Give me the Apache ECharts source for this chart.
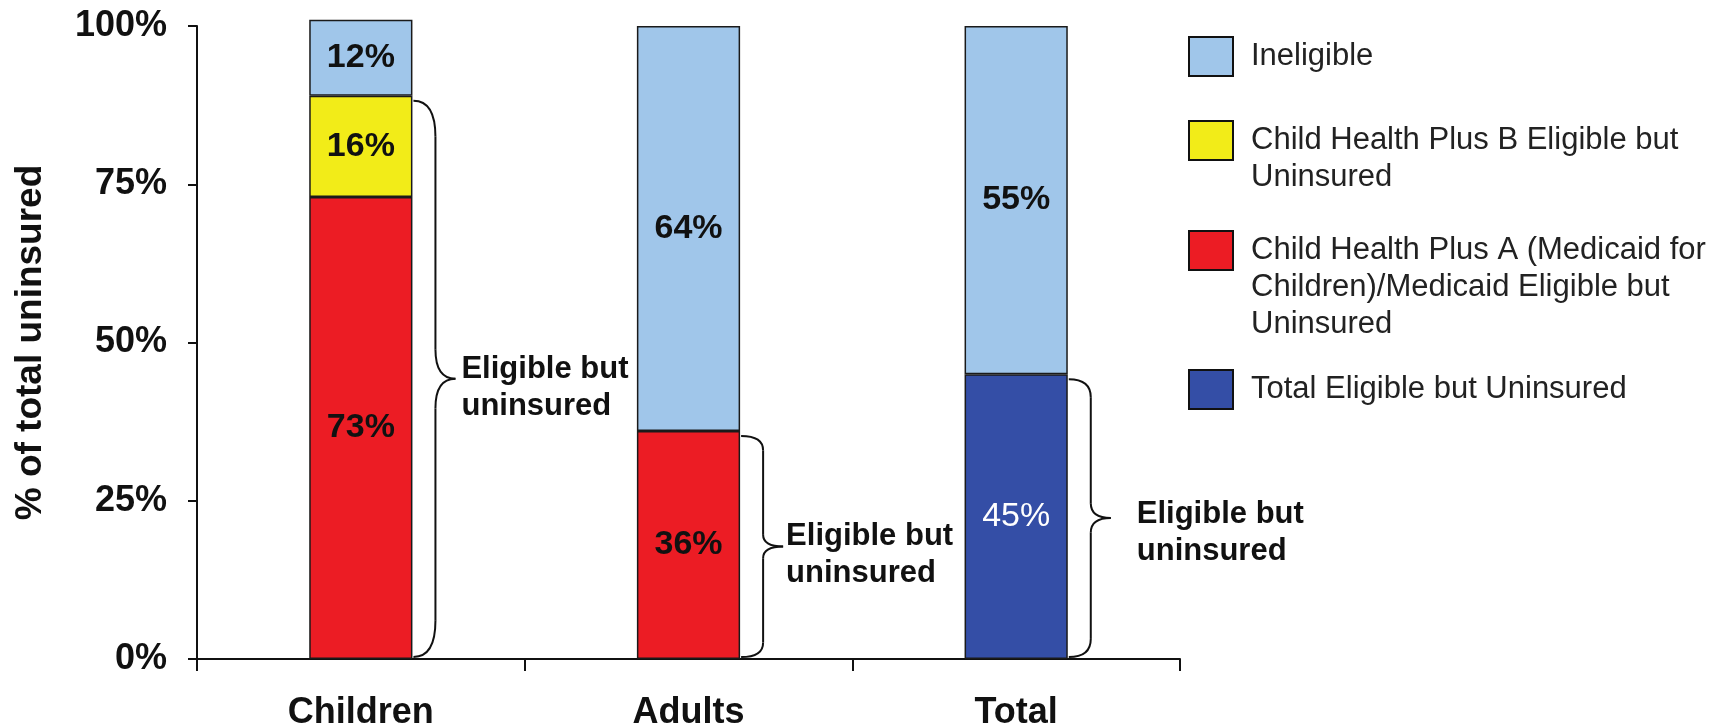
<!DOCTYPE html>
<html>
<head>
<meta charset="utf-8">
<title>% of total uninsured</title>
<script src="https://cdn.jsdelivr.net/npm/echarts@6/dist/echarts.min.js"></script>
<style>
  html, body { margin: 0; padding: 0; background: #ffffff; }
  #chart { width: 1721px; height: 728px; }
</style>
</head>
<body>
<div id="chart"></div>
<script>
// ---- data ----
const categories = ['Children', 'Adults', 'Total'];
const ineligible = [12, 64, 55];
const chpBEligible = [16, '-', '-'];
const chpAEligible = [73, 36, '-'];
const totalEligible = ['-', '-', 45];
const yTicks = [0, 25, 50, 75, 100];

const seriesNames = {
  ineligible: 'Ineligible',
  chpB: 'Child Health Plus B Eligible but\nUninsured',
  chpA: 'Child Health Plus A (Medicaid for\nChildren)/Medicaid Eligible but\nUninsured',
  total: 'Total Eligible but Uninsured'
};
const braceText = 'Eligible but\nuninsured';

// eligible-but-uninsured share per group, spanned by a brace
const num = v => (typeof v === 'number' ? v : 0);
const eligibleShare = categories.map((_, i) =>
  num(chpAEligible[i]) + num(chpBEligible[i]) + num(totalEligible[i]));

// ---- styling ----
const FONT = '"Liberation Sans", Arial, Helvetica, sans-serif';
const BAR_SHARE = 0.315;
const COLORS = {
  ineligible: '#A0C6EA',
  chpB: '#F2EC18',
  chpA: '#EC1C24',
  total: '#344EA6'
};
// brace label offset from the brace tip: [dx, dy]
const BRACE_TEXT_OFFSET = [[6, 9], [3, 8], [26, 15]];

const chart = echarts.init(document.getElementById('chart'), null, { renderer: 'canvas' });

const barLabel = {
  show: true,
  position: 'inside',
  formatter: '{c}%',
  color: '#111',
  fontFamily: FONT,
  fontWeight: 'bold',
  fontSize: 34
};
const barBorder = { borderColor: '#1a1a1a', borderWidth: 1.5 };

function barSeries(name, data, color, labelExtra) {
  return {
    name: name,
    type: 'bar',
    stack: 'share',
    barWidth: (BAR_SHARE * 100) + '%',
    clip: false,
    data: data,
    itemStyle: Object.assign({ color: color }, barBorder),
    label: Object.assign({}, barLabel, labelExtra || {}),
    emphasis: { disabled: true }
  };
}

function renderBrace(params, api) {
  const i = api.value(0);
  const v = api.value(1);
  const p0 = api.coord([i, 0]);
  const p1 = api.coord([i, v]);
  const band = api.size([1, 0])[0];
  const x0 = p0[0] + band * BAR_SHARE / 2 + 1;
  const yTop = p1[1] + 5;
  const yBot = p0[1] - 2;
  const x1 = x0 + 22;
  const x2 = x1 + 20;
  const len = yBot - yTop;
  const r = Math.max(10, len * 0.065);
  const rt = Math.max(10, len * 0.053);
  const ym = (yTop + yBot) / 2;
  const st = { stroke: '#111', lineWidth: 2, fill: null };
  const off = BRACE_TEXT_OFFSET[params.dataIndex];
  return {
    type: 'group',
    children: [
      { type: 'bezierCurve', shape: { x1: x0, y1: yTop, cpx1: x1, cpy1: yTop, x2: x1, y2: yTop + r }, style: st },
      { type: 'line', shape: { x1: x1, y1: yTop + r, x2: x1, y2: ym - rt }, style: st },
      { type: 'bezierCurve', shape: { x1: x1, y1: ym - rt, cpx1: x1, cpy1: ym, x2: x2, y2: ym }, style: st },
      { type: 'bezierCurve', shape: { x1: x2, y1: ym, cpx1: x1, cpy1: ym, x2: x1, y2: ym + rt }, style: st },
      { type: 'line', shape: { x1: x1, y1: ym + rt, x2: x1, y2: yBot - r }, style: st },
      { type: 'bezierCurve', shape: { x1: x1, y1: yBot - r, cpx1: x1, cpy1: yBot, x2: x0, y2: yBot }, style: st },
      {
        type: 'text',
        style: {
          text: braceText,
          x: x2 + off[0],
          y: ym + off[1],
          align: 'left',
          verticalAlign: 'middle',
          font: 'bold 31px ' + FONT,
          lineHeight: 37,
          fill: '#111'
        }
      }
    ]
  };
}

// One legend block per entry. The legend centres its text on the swatch, so
// multi-line names get blank lines on top to keep the swatch beside line one.
const LEGEND_LINE = 37;
const legendEntries = [
  { name: seriesNames.ineligible, top: 36 },
  { name: seriesNames.chpB, top: 121 },
  { name: seriesNames.chpA, top: 231 },
  { name: seriesNames.total, top: 369 }
];
const legends = legendEntries.map(e => {
  const lines = e.name.split('\n').length;
  const above = Math.max(0, Math.round((2 * lines - 1) * LEGEND_LINE / 2 - 19.5));
  return {
    data: [e.name],
    orient: 'vertical',
    left: 1188,
    top: e.top - above,
    padding: 0,
    icon: 'rect',
    itemWidth: 44,
    itemHeight: 39,
    selectedMode: false,
    formatter: name => '\n'.repeat(lines - 1) + name,
    itemStyle: { borderColor: '#111', borderWidth: 2 },
    textStyle: {
      fontFamily: FONT,
      fontSize: 31,
      color: '#222',
      lineHeight: LEGEND_LINE,
      padding: [0, 0, 0, 13]
    }
  };
});

const option = {
  animation: false,
  backgroundColor: '#ffffff',
  grid: {
    left: 197, right: 541, top: 26, bottom: 69,
    containLabel: false,
    outerBoundsMode: 'none'
  },
  legend: legends,
  xAxis: {
    type: 'category',
    data: categories,
    axisLine: { show: true, lineStyle: { color: '#111', width: 2 } },
    axisTick: { show: true, length: 12, lineStyle: { color: '#111', width: 2 } },
    axisLabel: {
      margin: 36,
      color: '#111',
      fontFamily: FONT,
      fontWeight: 'bold',
      fontSize: 36
    },
    splitLine: { show: false }
  },
  yAxis: {
    type: 'value',
    min: yTicks[0],
    max: yTicks[yTicks.length - 1],
    interval: yTicks[1] - yTicks[0],
    name: '% of total uninsured',
    nameLocation: 'middle',
    nameRotate: 90,
    nameGap: 148,
    nameTextStyle: {
      color: '#111',
      fontFamily: FONT,
      fontWeight: 'bold',
      fontSize: 37
    },
    axisLine: { show: true, lineStyle: { color: '#111', width: 2 } },
    axisTick: { show: true, length: 9, lineStyle: { color: '#111', width: 2 } },
    axisLabel: {
      margin: 30,
      formatter: '{value}%',
      color: '#111',
      fontFamily: FONT,
      fontWeight: 'bold',
      fontSize: 36
    },
    splitLine: { show: false }
  },
  series: [
    barSeries(seriesNames.chpA, chpAEligible, COLORS.chpA),
    barSeries(seriesNames.total, totalEligible, COLORS.total, { color: '#ffffff', fontWeight: 'normal' }),
    barSeries(seriesNames.chpB, chpBEligible, COLORS.chpB),
    barSeries(seriesNames.ineligible, ineligible, COLORS.ineligible),
    {
      type: 'custom',
      name: 'eligible-brace',
      coordinateSystem: 'cartesian2d',
      renderItem: renderBrace,
      encode: { x: 0, y: 1 },
      data: eligibleShare.map((v, i) => [i, v]),
      silent: true,
      z: 5
    }
  ]
};

chart.setOption(option);
</script>
</body>
</html>
